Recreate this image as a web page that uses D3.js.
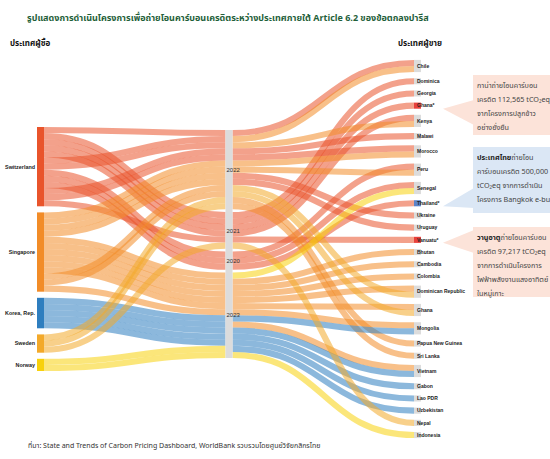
<!DOCTYPE html>
<html>
<head>
<meta charset="utf-8">
<script src="https://cdn.jsdelivr.net/npm/d3@7"></script>
<style>
  body { margin: 0; background: #fff; }
  svg text { font-family: "Liberation Sans", Arial, sans-serif; }
  svg .thai { font-family: "Noto Sans Thai", "Noto Sans", "DejaVu Sans", sans-serif; }
</style>
</head>
<body>
<svg id="chart" width="550" height="459"></svg>
<script>
var buyers = ["Switzerland", "Singapore", "Korea, Rep.", "Sweden", "Norway"];
var buyerColors = ["#e9542b", "#f28c28", "#2e7ebf", "#f3a92a", "#f8d10c"];
var years = ["2022", "2021", "2020", "2023"];
var sellers = ["Chile", "Dominica", "Georgia", "Ghana*", "Kenya", "Malawi", "Morocco", "Peru",
  "Senegal", "Thailand*", "Ukraine", "Uruguay", "Vanuatu*", "Bhutan", "Cambodia", "Colombia",
  "Dominican Republic", "Ghana", "Mongolia", "Papua New Guinea", "Sri Lanka", "Vietnam",
  "Gabon", "Lao PDR", "Uzbekistan", "Nepal", "Indonesia"];
var sellerMarks = { "Ghana*": "#e8413c", "Thailand*": "#5b83c9", "Vanuatu*": "#e8413c" };

// buyer, year, seller, number of agreements
var deals = [
  ["Switzerland", "2022", "Chile", 1],
  ["Switzerland", "2021", "Dominica", 1],
  ["Switzerland", "2021", "Georgia", 1],
  ["Switzerland", "2021", "Ghana*", 1],
  ["Switzerland", "2021", "Kenya", 1],
  ["Switzerland", "2022", "Malawi", 1],
  ["Switzerland", "2022", "Morocco", 1],
  ["Switzerland", "2020", "Peru", 1],
  ["Switzerland", "2020", "Senegal", 1],
  ["Switzerland", "2020", "Thailand*", 1],
  ["Switzerland", "2022", "Ukraine", 1],
  ["Switzerland", "2022", "Uruguay", 1],
  ["Switzerland", "2021", "Vanuatu*", 1],
  ["Singapore", "2022", "Chile", 1],
  ["Singapore", "2022", "Kenya", 1],
  ["Singapore", "2022", "Morocco", 1],
  ["Singapore", "2022", "Peru", 1],
  ["Singapore", "2023", "Bhutan", 1],
  ["Singapore", "2023", "Cambodia", 1],
  ["Singapore", "2023", "Colombia", 1],
  ["Singapore", "2023", "Dominican Republic", 1],
  ["Singapore", "2023", "Ghana", 1],
  ["Singapore", "2023", "Mongolia", 1],
  ["Singapore", "2022", "Papua New Guinea", 1],
  ["Singapore", "2022", "Sri Lanka", 1],
  ["Singapore", "2023", "Vietnam", 1],
  ["Korea, Rep.", "2023", "Mongolia", 1],
  ["Korea, Rep.", "2023", "Vietnam", 1],
  ["Korea, Rep.", "2023", "Gabon", 1],
  ["Korea, Rep.", "2023", "Lao PDR", 1],
  ["Korea, Rep.", "2023", "Uzbekistan", 1],
  ["Sweden", "2022", "Dominican Republic", 1],
  ["Sweden", "2022", "Ghana", 1],
  ["Sweden", "2021", "Nepal", 1],
  ["Norway", "2023", "Senegal", 1],
  ["Norway", "2023", "Indonesia", 1]
];

var notes = [
  { seller: "Ghana*", fill: "#fce3d9", y0: 75, y1: 135, base: [100, 125],
    lines: [["", "กาน่าถ่ายโอนคาร์บอน"], ["", "เครดิต 112,565 tCO₂eq"], ["", "จากโครงการปลูกข้าว"], ["", "อย่างยั่งยืน"]] },
  { seller: "Thailand*", fill: "#dbe7f5", y0: 147, y1: 213, base: [188, 208],
    lines: [["ประเทศไทย", "ถ่ายโอน"], ["", "คาร์บอนเครดิต 500,000"], ["", "tCO₂eq จากการดำเนิน"], ["", "โครงการ Bangkok e-bus"]] },
  { seller: "Vanuatu*", fill: "#fce3d9", y0: 227, y1: 297, base: [230, 253],
    lines: [["วานูอาตู", "ถ่ายโอนคาร์บอน"], ["", "เครดิต 97,217 tCO₂eq"], ["", "จากการดำเนินโครงการ"], ["", "ไฟฟ้าพลังงานแสงอาทิตย์"], ["", "ในหมู่เกาะ"]] }
];

var nodeW = 7, unit = 6.1;
var svg = d3.select("#chart");
var colX = d3.scaleLinear().domain([0, 2]).range([37, 414]);
var ky = d3.scaleLinear().domain([0, 1]).range([0, unit]);
var colour = d3.scaleOrdinal().domain(buyers).range(buyerColors);

function stack(names, key, center, pad) {
  var nodes = names.map(function(n) {
    return { name: n, value: d3.sum(deals.filter(function(d) { return d[key] === n; }), function(d) { return d[3]; }) };
  });
  var total = d3.sum(nodes, function(d) { return ky(d.value); }) + pad * (nodes.length - 1);
  var y = center - total / 2;
  nodes.forEach(function(d) { d.y0 = y; d.y1 = y + ky(d.value); y = d.y1 + pad; });
  return nodes;
}

var buyerNodes = stack(buyers, 0, 249, 6.1);
var yearNodes = stack(years, 1, 244, 2.8);
var sellerNodes = stack(sellers, 2, 249, 6.1);

var flows = deals.map(function(d) {
  return { buyer: d[0], year: d[1], seller: d[2], value: d[3],
    bi: buyers.indexOf(d[0]), yi: years.indexOf(d[1]), si: sellers.indexOf(d[2]) };
});

// give each flow a slot on a node side, sorted by the given keys
function slots(nodes, keyOf, sorter, prop) {
  nodes.forEach(function(n) {
    var y = n.y0;
    flows.filter(function(f) { return keyOf(f) === n.name; })
      .sort(sorter)
      .forEach(function(f) { var w = ky(f.value); f[prop] = y + w / 2; y += w; });
  });
}
slots(buyerNodes, function(f) { return f.buyer; }, function(a, b) { return a.si - b.si || a.yi - b.yi; }, "yb");
slots(yearNodes, function(f) { return f.year; }, function(a, b) { return a.bi - b.bi || a.si - b.si; }, "yin");
slots(yearNodes, function(f) { return f.year; }, function(a, b) { return a.si - b.si || a.bi - b.bi; }, "yout");
slots(sellerNodes, function(f) { return f.seller; }, function(a, b) { return a.bi - b.bi || a.yi - b.yi; }, "ys");

var link = d3.linkHorizontal();

svg.append("g").attr("fill", "none").attr("stroke-opacity", 0.55)
  .selectAll("path")
  .data(flows.flatMap(function(f) {
    return [
      { f: f, source: [colX(0) + nodeW, f.yb], target: [colX(1), f.yin] },
      { f: f, source: [colX(1) + nodeW, f.yout], target: [colX(2), f.ys] }
    ];
  }))
  .enter().append("path")
  .attr("d", link)
  .attr("stroke", function(d) { return colour(d.f.buyer); })
  .attr("stroke-width", function(d) { return ky(d.f.value); });

// buyer nodes
var bn = svg.append("g").selectAll("g").data(buyerNodes).enter().append("g");
bn.append("rect")
  .attr("x", colX(0)).attr("y", function(d) { return d.y0; })
  .attr("width", nodeW).attr("height", function(d) { return d.y1 - d.y0; })
  .attr("fill", function(d) { return colour(d.name); });
bn.append("text")
  .attr("x", colX(0) - 2).attr("y", function(d) { return (d.y0 + d.y1) / 2; })
  .attr("dy", "0.35em").attr("text-anchor", "end")
  .attr("font-size", 5.4).attr("font-weight", "bold").attr("fill", "#222")
  .text(function(d) { return d.name; });

// year column
svg.append("rect")
  .attr("x", colX(1)).attr("y", yearNodes[0].y0)
  .attr("width", nodeW).attr("height", yearNodes[yearNodes.length - 1].y1 - yearNodes[0].y0)
  .attr("fill", "#dcdcdc");
svg.append("g").selectAll("text").data(yearNodes).enter().append("text")
  .attr("x", colX(1) + 1).attr("y", function(d) { return (d.y0 + d.y1) / 2; })
  .attr("dy", "0.35em").attr("font-size", 6).attr("fill", "#333")
  .text(function(d) { return d.name; });

// seller nodes
var sn = svg.append("g").selectAll("g").data(sellerNodes).enter().append("g");
sn.append("rect")
  .attr("x", colX(2)).attr("y", function(d) { return d.y0; })
  .attr("width", nodeW).attr("height", function(d) { return d.y1 - d.y0; })
  .attr("fill", function(d) { return sellerMarks[d.name] || "#dcdcdc"; });
sn.append("text")
  .attr("x", colX(2) + 3).attr("y", function(d) { return (d.y0 + d.y1) / 2; })
  .attr("dy", "0.35em").attr("font-size", 5).attr("font-weight", "bold").attr("fill", "#222")
  .text(function(d) { return d.name; });

// annotation boxes
var boxX = 473;
notes.forEach(function(n) {
  var node = sellerNodes.filter(function(d) { return d.name === n.seller; })[0];
  var tipY = (node.y0 + node.y1) / 2 + 3;
  var g = svg.append("g");
  g.append("polygon")
    .attr("points", [[boxX + 1, n.base[0]], [443, tipY], [boxX + 1, n.base[1]]].join(" "))
    .attr("fill", n.fill);
  g.append("rect").attr("x", boxX).attr("y", n.y0).attr("width", 90).attr("height", n.y1 - n.y0)
    .attr("fill", n.fill);
  n.lines.forEach(function(l, i) {
    var t = g.append("text").attr("class", "thai")
      .attr("x", boxX + 4).attr("y", n.y0 + 13 + i * 14)
      .attr("font-size", 7.2).attr("fill", "#444");
    if (l[0]) t.append("tspan").attr("font-weight", "bold").attr("fill", "#222").text(l[0]);
    t.append("tspan").text(l[1]);
  });
});

// titles
svg.append("text").attr("class", "thai")
  .attr("x", 27).attr("y", 21).attr("font-size", 9).attr("font-weight", "bold").attr("fill", "#1f5f3a")
  .text("รูปแสดงการดำเนินโครงการเพื่อถ่ายโอนคาร์บอนเครดิตระหว่างประเทศภายใต้ Article 6.2 ของข้อตกลงปารีส");
svg.append("text").attr("class", "thai")
  .attr("x", 10).attr("y", 46).attr("font-size", 8).attr("font-weight", "bold").attr("fill", "#111")
  .text("ประเทศผู้ซื้อ");
svg.append("text").attr("class", "thai")
  .attr("x", 398).attr("y", 46).attr("font-size", 8).attr("font-weight", "bold").attr("fill", "#111")
  .text("ประเทศผู้ขาย");
svg.append("text").attr("class", "thai")
  .attr("x", 28).attr("y", 448).attr("font-size", 7).attr("fill", "#333")
  .text("ที่มา: State and Trends of Carbon Pricing Dashboard, WorldBank รวบรวมโดยศูนย์วิจัยกสิกรไทย");
</script>
</body>
</html>
